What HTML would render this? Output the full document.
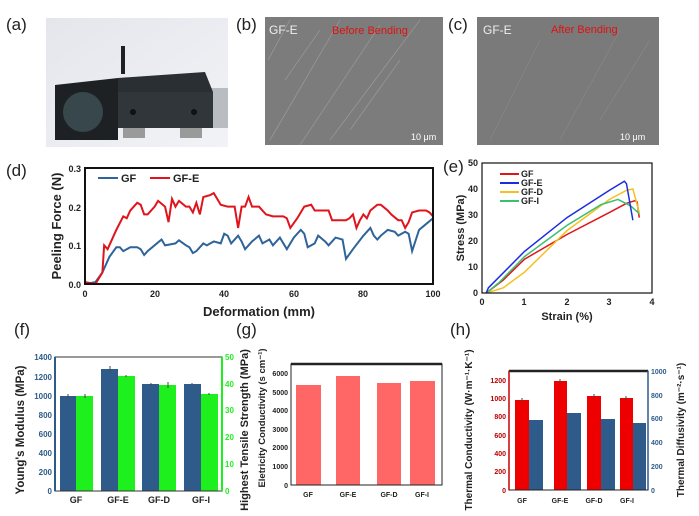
<!DOCTYPE html>
<html><head><meta charset="utf-8"><style>
body{margin:0;background:#fff}
svg{display:block;font-family:"Liberation Sans",Arial,sans-serif}
.t{font-size:9px;font-weight:bold;fill:#222}
.lab{font-size:17px;fill:#222}
.ax{font-weight:bold;fill:#222}
</style></head><body>
<svg width="699" height="516" viewBox="0 0 699 516">
<text class="lab" x="6" y="30">(a)</text>
<text class="lab" x="236" y="30">(b)</text>
<text class="lab" x="448" y="30">(c)</text>
<text class="lab" x="6" y="176">(d)</text>
<text class="lab" x="443" y="172">(e)</text>
<text class="lab" x="14" y="335">(f)</text>
<text class="lab" x="236" y="335">(g)</text>
<text class="lab" x="450" y="335">(h)</text>

<!-- (a) -->
<defs><linearGradient id="bg" x1="0" y1="0" x2="1" y2="1"><stop offset="0" stop-color="#e4e6ec"/><stop offset="1" stop-color="#f2f3f6"/></linearGradient></defs>
<rect x="46" y="18" width="182" height="129" fill="url(#bg)"/>
<rect x="200" y="88" width="28" height="40" fill="#b9bcc0"/>
<rect x="121" y="46" width="4" height="28" fill="#1e2124"/>
<polygon points="118,78 205,72 213,92 118,92" fill="#2a2f33"/>
<rect x="118" y="92" width="95" height="36" fill="#30363a"/>
<polygon points="55,85 118,78 118,140 55,140" fill="#1d2124"/>
<ellipse cx="83" cy="112" rx="20" ry="20" fill="#37474b"/>
<rect x="123" y="128" width="22" height="10" fill="#9a9a9a"/>
<rect x="180" y="128" width="22" height="10" fill="#9a9a9a"/>
<circle cx="133" cy="112" r="3" fill="#111"/><circle cx="194" cy="112" r="3" fill="#111"/>

<!-- (b) -->
<rect x="265" y="17" width="178" height="128" fill="#7c7c7c"/>
<g stroke="#aaa" stroke-width="0.6" opacity="0.8">
<line x1="270" y1="140" x2="340" y2="20"/><line x1="300" y1="145" x2="380" y2="25"/><line x1="330" y1="140" x2="420" y2="20"/><line x1="285" y1="80" x2="320" y2="30"/><line x1="350" y1="130" x2="400" y2="60"/><line x1="268" y1="60" x2="290" y2="20"/>
</g>
<text x="269" y="34" font-size="12" fill="#eee">GF-E</text>
<text x="332" y="34" font-size="11" fill="#e01010">Before Bending</text>
<text x="411" y="140" font-size="9" fill="#fff">10 μm</text>
<!-- (c) -->
<rect x="477" y="17" width="182" height="128" fill="#7a7a7a"/>
<g stroke="#999" stroke-width="0.5" opacity="0.7">
<line x1="490" y1="140" x2="540" y2="40"/><line x1="560" y1="140" x2="620" y2="30"/><line x1="600" y1="120" x2="650" y2="40"/>
</g>
<text x="483" y="34" font-size="12" fill="#eee">GF-E</text>
<text x="551" y="33" font-size="11" fill="#e01010">After Bending</text>
<text x="620" y="140" font-size="9" fill="#fff">10 μm</text>

<!-- (d) -->
<g transform="translate(85,284) scale(3.48,-386.7)" fill="none">
<polyline vector-effect="non-scaling-stroke" stroke="#2f649a" stroke-width="2" points="0,0 3,0.005 5,0.03 7,0.07 9,0.095 10,0.095 11,0.085 13,0.095 15,0.095 16,0.09 17,0.075 18,0.085 20,0.1 22,0.115 23,0.1 26,0.105 27,0.113 29,0.1 30,0.095 31,0.08 32,0.085 34,0.105 35,0.1 37,0.11 39,0.105 40,0.13 41,0.125 42,0.105 44,0.125 45,0.11 46,0.09 48,0.11 50,0.125 51,0.105 53,0.115 54,0.1 56,0.12 58,0.09 60,0.12 62,0.14 63,0.13 64,0.095 66,0.105 67,0.125 69,0.11 70,0.1 72,0.12 74,0.115 75,0.065 77,0.09 80,0.125 82,0.145 83,0.125 84,0.115 85,0.125 87,0.14 89,0.135 90,0.125 92,0.135 93,0.13 94,0.085 96,0.14 98,0.155 100,0.17"/>
<polyline vector-effect="non-scaling-stroke" stroke="#e0141c" stroke-width="2" points="0,0.005 3,0 5,0.03 5.5,0.1 6.5,0.09 7,0.1 9,0.14 11,0.175 12,0.17 13,0.19 15,0.21 16,0.205 17,0.18 18,0.18 20,0.2 21,0.215 23,0.2 24,0.16 25,0.22 26,0.2 27,0.215 29,0.2 30,0.2 31,0.185 32,0.21 33,0.18 34,0.225 36,0.23 37,0.235 39,0.205 41,0.2 43,0.2 44,0.145 45,0.2 46,0.2 47,0.225 48,0.2 50,0.2 52,0.18 54,0.175 57,0.175 58,0.17 59,0.145 61,0.17 63,0.2 65,0.205 66,0.19 68,0.19 70,0.19 71,0.165 75,0.165 76,0.17 77,0.18 78,0.145 79,0.165 80,0.18 81,0.17 82,0.19 84,0.205 85,0.205 87,0.19 88,0.18 90,0.165 91,0.165 92,0.145 93,0.16 94,0.185 96,0.19 98,0.19 99,0.185 100,0.175"/>
</g>
<rect x="85" y="168" width="348" height="116" fill="none" stroke="#111" stroke-width="2"/>
<g text-anchor="end">
<text x="81" y="288" class="t" font-size="10">0.0</text><text x="81" y="249" class="t" font-size="10">0.1</text><text x="81" y="211" class="t" font-size="10">0.2</text><text x="81" y="172" class="t" font-size="10">0.3</text></g>
<g text-anchor="middle">
<text x="85" y="297" class="t" font-size="10">0</text><text x="155" y="297" class="t" font-size="10">20</text><text x="224" y="297" class="t" font-size="10">40</text><text x="294" y="297" class="t" font-size="10">60</text><text x="363" y="297" class="t" font-size="10">80</text><text x="433" y="297" class="t" font-size="10">100</text></g>
<text x="259" y="316" class="ax" text-anchor="middle" font-size="13">Deformation (mm)</text>
<text class="ax" transform="translate(61,226) rotate(-90)" text-anchor="middle" font-size="13">Peeling Force (N)</text>
<line x1="98" y1="178" x2="118" y2="178" stroke="#2f649a" stroke-width="2"/><text x="121" y="182" class="ax" font-size="11">GF</text>
<line x1="150" y1="178" x2="170" y2="178" stroke="#e0141c" stroke-width="2"/><text x="173" y="182" class="ax" font-size="11">GF-E</text>

<!-- (e) -->
<g transform="translate(482,293) scale(42.5,-2.6)" fill="none">
<polyline vector-effect="non-scaling-stroke" stroke="#e0141c" stroke-width="1.5" points="0.1,0 0.5,5 1,13 2,22.5 3,31 3.4,34.5 3.6,35.5 3.65,35 3.7,29"/>
<polyline vector-effect="non-scaling-stroke" stroke="#f5c020" stroke-width="1.5" points="0.1,0 0.5,2 1,8 2,24 3,36 3.4,39.5 3.55,40 3.6,37 3.7,31"/>
<polyline vector-effect="non-scaling-stroke" stroke="#3cc070" stroke-width="1.5" points="0.1,0 0.4,4 1,14 2,26 2.8,34 3.2,36 3.5,33.5 3.7,30.5"/>
<polyline vector-effect="non-scaling-stroke" stroke="#1a2ee0" stroke-width="1.5" points="0.1,0 0.15,2 1,16 2,29 3,39.5 3.35,43 3.4,42 3.55,28"/>
</g>
<rect x="482" y="163" width="170" height="130" fill="none" stroke="#111" stroke-width="1.2"/>
<g text-anchor="end">
<text x="478" y="296" class="t" font-size="8">0</text><text x="478" y="270" class="t" font-size="8">10</text><text x="478" y="244" class="t" font-size="8">20</text><text x="478" y="218" class="t" font-size="8">30</text><text x="478" y="192" class="t" font-size="8">40</text><text x="478" y="166" class="t" font-size="8">50</text></g>
<g text-anchor="middle">
<text x="482" y="305" class="t" font-size="8">0</text><text x="524" y="305" class="t" font-size="8">1</text><text x="567" y="305" class="t" font-size="8">2</text><text x="609" y="305" class="t" font-size="8">3</text><text x="652" y="305" class="t" font-size="8">4</text></g>
<text x="567" y="320" class="ax" text-anchor="middle" font-size="11">Strain (%)</text>
<text class="ax" transform="translate(464,228) rotate(-90)" text-anchor="middle" font-size="11">Stress (MPa)</text>
<g stroke-width="2">
<line x1="500" y1="174" x2="519" y2="174" stroke="#e0141c"/><line x1="500" y1="183" x2="519" y2="183" stroke="#1a2ee0"/><line x1="500" y1="192" x2="519" y2="192" stroke="#f5c020"/><line x1="500" y1="201" x2="519" y2="201" stroke="#3cc070"/></g>
<text x="521" y="177" class="t" font-size="8">GF</text><text x="521" y="186" class="t" font-size="8">GF-E</text><text x="521" y="195" class="t" font-size="8">GF-D</text><text x="521" y="204" class="t" font-size="8">GF-I</text>

<!-- (f) -->
<g fill="#2f5b8a">
<rect x="60" y="396" width="16" height="95"/><rect x="101" y="369" width="17" height="122"/><rect x="142" y="384" width="17" height="107"/><rect x="184" y="384" width="17" height="107"/></g>
<g fill="#1ef01e">
<rect x="76" y="396" width="17" height="95"/><rect x="118" y="376" width="17" height="115"/><rect x="159" y="385" width="17" height="106"/><rect x="201" y="394" width="17" height="97"/></g>
<g stroke="#444" stroke-width="1"><line x1="68" y1="394" x2="68" y2="398"/><line x1="85" y1="394" x2="85" y2="398"/><line x1="110" y1="366" x2="110" y2="371"/><line x1="126" y1="375" x2="126" y2="377"/><line x1="151" y1="383" x2="151" y2="385"/><line x1="168" y1="382" x2="168" y2="388"/><line x1="192" y1="383" x2="192" y2="385"/><line x1="209" y1="393" x2="209" y2="395"/></g>
<rect x="55" y="357" width="167" height="134" fill="none" stroke="#333" stroke-width="1"/>
<line x1="55" y1="357" x2="55" y2="491" stroke="#2f5b8a" stroke-width="2"/>
<line x1="222" y1="357" x2="222" y2="491" stroke="#1ef01e" stroke-width="2"/>
<g text-anchor="end" fill="#2f5b8a" font-size="8" font-weight="bold">
<text x="52" y="494">0</text><text x="52" y="475">200</text><text x="52" y="456">400</text><text x="52" y="437">600</text><text x="52" y="418">800</text><text x="52" y="399">1000</text><text x="52" y="380">1200</text><text x="52" y="360">1400</text></g>
<g fill="#1ef01e" font-size="8" font-weight="bold">
<text x="225" y="494">0</text><text x="225" y="467">10</text><text x="225" y="440">20</text><text x="225" y="413">30</text><text x="225" y="387">40</text><text x="225" y="360">50</text></g>
<g text-anchor="middle" class="t" font-size="8" font-weight="bold" fill="#222">
<text x="76" y="503">GF</text><text x="118" y="503">GF-E</text><text x="159" y="503">GF-D</text><text x="201" y="503">GF-I</text></g>
<text class="ax" transform="translate(24,430) rotate(-90)" text-anchor="middle" font-size="11.5">Young's Modulus (MPa)</text>
<text class="ax" transform="translate(248,430) rotate(-90)" text-anchor="middle" font-size="11">Highest Tensile Strength (MPa)</text>

<!-- (g) -->
<g fill="#ff6666">
<rect x="296" y="385" width="25" height="100"/><rect x="336" y="376" width="24" height="109"/><rect x="377" y="383" width="24" height="102"/><rect x="410" y="381" width="25" height="104"/></g>
<rect x="291" y="364" width="151" height="121" fill="none" stroke="#222" stroke-width="1"/>
<line x1="291" y1="364" x2="442" y2="364" stroke="#222" stroke-width="2.5"/>
<g text-anchor="end" font-size="7" font-weight="bold" fill="#222">
<text x="288" y="488">0</text><text x="288" y="469">1000</text><text x="288" y="450">2000</text><text x="288" y="432">3000</text><text x="288" y="413">4000</text><text x="288" y="395">5000</text><text x="288" y="376">6000</text></g>
<g text-anchor="middle" font-size="7" font-weight="bold" fill="#222">
<text x="308" y="497">GF</text><text x="348" y="497">GF-E</text><text x="389" y="497">GF-D</text><text x="422" y="497">GF-I</text></g>
<text class="ax" transform="translate(265,418) rotate(-90)" text-anchor="middle" font-size="9.5">Eletricity Conductivity (s cm⁻¹)</text>

<!-- (h) -->
<g fill="#ee0000">
<rect x="515" y="400" width="14" height="90"/><rect x="554" y="381" width="13" height="109"/><rect x="587" y="396" width="14" height="94"/><rect x="620" y="398" width="13" height="92"/></g>
<g fill="#2f5b8a">
<rect x="529" y="420" width="14" height="70"/><rect x="567" y="413" width="14" height="77"/><rect x="601" y="419" width="14" height="71"/><rect x="633" y="423" width="13" height="67"/></g>
<g stroke="#444" stroke-width="1"><line x1="522" y1="398" x2="522" y2="402"/><line x1="560" y1="379" x2="560" y2="383"/><line x1="594" y1="394" x2="594" y2="398"/><line x1="626" y1="396" x2="626" y2="400"/></g>
<rect x="509" y="371" width="139" height="119" fill="none" stroke="#222" stroke-width="1"/>
<line x1="509" y1="371" x2="648" y2="371" stroke="#222" stroke-width="2.5"/>
<line x1="509" y1="371" x2="509" y2="490" stroke="#c00" stroke-width="1.5"/>
<line x1="648" y1="371" x2="648" y2="490" stroke="#2f5b8a" stroke-width="1.5"/>
<g text-anchor="end" font-size="7" font-weight="bold" fill="#b00">
<text x="506" y="493">0</text><text x="506" y="474">200</text><text x="506" y="456">400</text><text x="506" y="438">600</text><text x="506" y="419">800</text><text x="506" y="401">1000</text><text x="506" y="383">1200</text></g>
<g font-size="7" font-weight="bold" fill="#2f5b8a">
<text x="651" y="493">0</text><text x="651" y="469">200</text><text x="651" y="445">400</text><text x="651" y="421">600</text><text x="651" y="398">800</text><text x="651" y="374">1000</text></g>
<g text-anchor="middle" font-size="7" font-weight="bold" fill="#222">
<text x="522" y="503">GF</text><text x="560" y="503">GF-E</text><text x="594" y="503">GF-D</text><text x="627" y="503">GF-I</text></g>
<text class="ax" transform="translate(472,430) rotate(-90)" text-anchor="middle" font-size="10">Thermal Conductivity (W·m⁻¹·K⁻¹)</text>
<text class="ax" transform="translate(684,430) rotate(-90)" text-anchor="middle" font-size="10">Thermal Diffusivity (m⁻²·s⁻¹)</text>
</svg>
</body></html>
